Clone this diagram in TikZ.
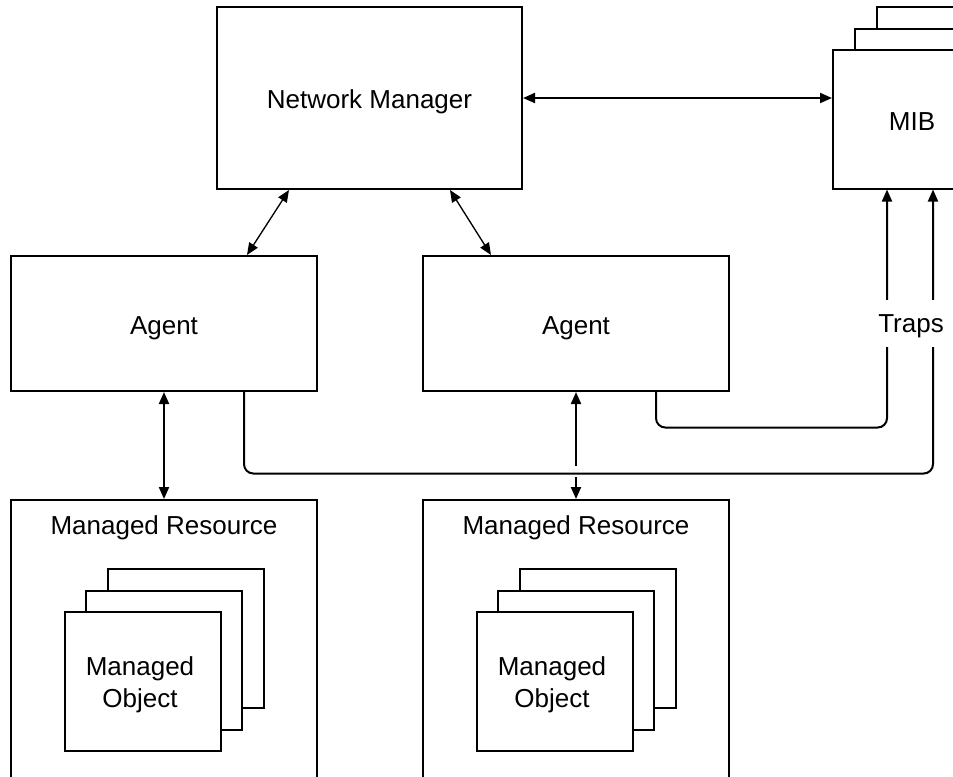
\documentclass[tikz,border=0pt]{standalone}
\usepackage{fontspec}
\setmainfont{Liberation Sans}
\usetikzlibrary{arrows.meta,calc}
\begin{document}
\begin{tikzpicture}[x=0.75pt,y=-0.75pt,
  >={Triangle[length=9pt,width=7.5pt]},
  txt/.style={font=\fontsize{19.5}{24}\selectfont},
  box/.style={draw, line width=1.5pt, fill=white, inner sep=0pt},
  sz/.style 2 args={minimum width={#1*0.75pt}, minimum height={#2*0.75pt}},
  lbl/.style={inner sep=0pt, align=center, txt},
  conn/.style={line width=1.5pt},
  diag/.style={line width=1pt, <->},
  trap/.style={line width=1.5pt, rounded corners=7pt, ->}
]
\path[use as bounding box] (0,0) rectangle (953,776);
\clip (0,0) rectangle (953,776);

% Network manager
\node[box, sz={305}{182}] (nm) at (369.5,98) {};
\node[lbl] (nmt) at (369.5,102) {Network Manager};

% MIB stack
\node[box, sz={158}{139}] (mib3) at (956,76.5) {};
\node[box, sz={158}{139}] (mib2) at (934,98) {};
\node[box, sz={158}{139}] (mib) at (912,119) {};
\node[lbl] (mibt) at (912,122) {MIB};

% Agents
\node[box, sz={306}{135}] (agL) at (164,323.5) {};
\node[lbl] (agLt) at (164,328) {Agent};
\node[box, sz={306}{135}] (agR) at (576,323.5) {};
\node[lbl] (agRt) at (576,328) {Agent};

% Managed resources
\node[box, sz={306}{300}] (mrL) at (164,650) {};
\node[lbl] (mrLt) at (164,528) {Managed Resource};
\node[box, sz={306}{300}] (mrR) at (576,650) {};
\node[lbl] (mrRt) at (576,528) {Managed Resource};

% Managed objects (left)
\node[box, sz={156}{139}] (moL3) at (185.5,638.5) {};
\node[box, sz={156}{139}] (moL2) at (164,660) {};
\node[box, sz={156}{139}] (moL) at (142.5,681.5) {};
\node[lbl] (moLt) at (140,684.5) {Managed\\Object};
% Managed objects (right)
\node[box, sz={156}{139}] (moR3) at (597.5,638.5) {};
\node[box, sz={156}{139}] (moR2) at (576,660) {};
\node[box, sz={156}{139}] (moR) at (554.5,681.5) {};
\node[lbl] (moRt) at (552,684.5) {Managed\\Object};

% NM <-> MIB
\draw[conn, <->] (nm.east) -- (nm.east -| mib.west);

% NM <-> Agents
\draw[diag] ($(nm.south west)+(73,0)$) -- ($(agL.north west)+(237,0)$);
\draw[diag] ($(nm.south west)+(234,0)$) -- ($(agR.north west)+(69,0)$);

% Agents <-> resources
\draw[conn, <->] (agL.south) -- (mrL.north);
\coordinate (gapT) at (576,466);
\coordinate (gapB) at (576,477);
\draw[conn, <-] (agR.south) -- (gapT);
\draw[conn, ->] (gapB) -- (mrR.north);

% Trap lines
\coordinate (m1) at ($(mib.south west)+(55,0)$);
\coordinate (m2) at ($(mib.south west)+(101,0)$);
\coordinate (t1) at ($(agR.south west)+(234,0)$);
\coordinate (o1) at ($(agL.south west)+(234,0)$);
\draw[trap] (t1) |- ($(m1)+(0,238)$) -- (m1);
\draw[trap] (o1) |- ($(m2)+(0,284)$) -- (m2);

\node[fill=white, inner sep=0pt, minimum width=50pt, minimum height=35pt] (trapgap) at (911,323.5) {};
\node[lbl] (traps) at (911,326.5) {Traps};
\end{tikzpicture}
\end{document}
